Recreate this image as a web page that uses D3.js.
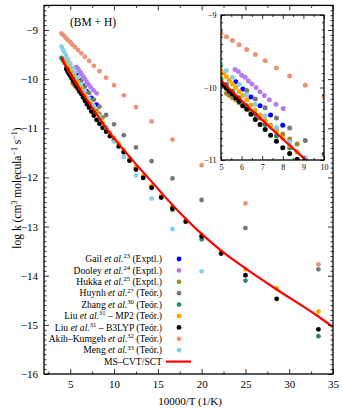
<!DOCTYPE html>
<html><head><meta charset="utf-8">
<script src="https://cdn.jsdelivr.net/npm/d3@7"></script>
<style>
body{margin:0;background:#fff}
svg{display:block}
text{font-family:"Liberation Serif","Times New Roman",serif;fill:#000}
</style>
</head><body>
<svg id="c" width="343" height="409"></svg>
<script>
// ---- data: temperatures (K) and log k ----
const gailT   = [1750,1650,1550,1450,1350,1250];
const gailK   = [-9.92,-10.02,-10.13,-10.25,-10.38,-10.52];
const dooleyT = [1760,1712,1667,1621,1580,1538,1493,1451,1408,1361,1304,1247];
const dooleyK = [-9.75,-9.78,-9.83,-9.86,-9.91,-9.95,-10.00,-10.06,-10.11,-10.17,-10.23,-10.29];
const hukkaT  = [1900,1850,1800,1750,1700,1650,1600,1550,1500,1450,1400,1350,1300,1250,1200,1150];
const hukkaK  = [-10.08,-10.11,-10.14,-10.17,-10.21,-10.25,-10.29,-10.33,-10.37,-10.42,-10.47,-10.52,-10.58,-10.64,-10.71,-10.78];
const huynhT  = [1600,1500,1400,1300,1200,1100,1000,900,800,700,600,500,400,300];
const huynhK  = [-10.04,-10.16,-10.28,-10.42,-10.56,-10.73,-10.92,-11.14,-11.39,-11.67,-12.02,-12.46,-13.03,-13.87];
const zhangT  = [2500,2400,2300,2200,2100,2000,1900,1800,1700,1600,1500,1400,1300,1200,1100,1000,900,800,700,600,500,400,300];
const zhangK  = [-9.57,-9.62,-9.67,-9.73,-9.80,-9.88,-9.96,-10.05,-10.14,-10.25,-10.37,-10.51,-10.67,-10.83,-11.00,-11.22,-11.47,-11.80,-12.20,-12.66,-13.26,-14.10,-15.23];
const liuT    = [2200,2150,2100,2050,2000,1950,1900,1850,1800,1750,1700,1650,1600,1550,1500,1450,1400,1350,1300,1250,1200,1150,1100,1050,1000,950,900,850,800,750,700,650,600,550,500,450,400,350,300];
const liuMp2K = [-9.62,-9.66,-9.69,-9.73,-9.765,-9.81,-9.85,-9.90,-9.95,-10.00,-10.06,-10.11,-10.17,-10.24,-10.31,-10.38,-10.45,-10.53,-10.61,-10.70,-10.80,-10.89,-10.99,-11.09,-11.20,-11.31,-11.44,-11.60,-11.79,-11.97,-12.17,-12.37,-12.60,-12.87,-13.17,-13.51,-13.87,-14.26,-14.73];
const liuB3K  = [-9.79,-9.82,-9.86,-9.90,-9.93,-9.97,-10.01,-10.05,-10.09,-10.14,-10.19,-10.25,-10.30,-10.37,-10.44,-10.51,-10.58,-10.66,-10.74,-10.83,-10.91,-10.99,-11.07,-11.16,-11.25,-11.37,-11.49,-11.66,-11.84,-12.01,-12.21,-12.41,-12.63,-12.90,-13.20,-13.55,-13.99,-14.47,-15.09];
const akihT   = [2500,2400,2300,2200,2100,2000,1900,1800,1700,1600,1500,1400,1300,1200,1100,1000,900,800,700,600,500,400,300];
const akihK   = [-9.07,-9.10,-9.13,-9.17,-9.21,-9.25,-9.30,-9.35,-9.41,-9.475,-9.545,-9.63,-9.73,-9.84,-9.97,-10.125,-10.33,-10.57,-10.86,-11.23,-11.75,-12.53,-13.77];
const mengT   = [2500,2400,2300,2200,2100,2000,1900,1800,1700,1600,1500,1400,1300,1200,1100,1000,900,800,700,600,500];
const mengK   = [-9.34,-9.40,-9.46,-9.53,-9.60,-9.68,-9.765,-9.86,-9.96,-10.10,-10.235,-10.39,-10.55,-10.75,-10.97,-11.27,-11.58,-11.96,-12.43,-13.05,-13.91];
const mscvtT  = [2500,2000,1667,1429,1250,1111,1000,909,800,714,600,500,450,400,350,300,286];
const mscvtK  = [-9.56,-9.90,-10.18,-10.45,-10.71,-10.97,-11.20,-11.42,-11.73,-12.03,-12.56,-13.15,-13.49,-13.85,-14.28,-14.83,-15.04];

const legendNames  = ["Gail","Dooley","Hukka","Huynh","Zhang","Liu","Liu","Akih–Kumgeh","Meng"];
const legendRefs   = ["23","24","25","27","30","31","31","32","33"];
const legendExtra  = [" (Exptl.)"," (Exptl.)"," (Exptl.)"," (Teór.)"," (Teór.)"," – MP2 (Teór.)"," – B3LYP (Teór.)"," (Teór.)"," (Teór.)"];
const lineLabel = "MS–CVT/SCT";
const colors = ["#0000ff","#b57cf0","#a8862a","#6f7b7b","#2e8b57","#ffa500","#000000","#eb9378","#87ceeb"];

const xTicks = [5,10,15,20,25,30,35];
const yTicks = [-16,-15,-14,-13,-12,-11,-10,-9];
const insetXTicks = [5,6,7,8,9,10];
const insetYTicks = [-11,-10,-9];

// ---- build ----
const series = [
  [gailT,gailK],[dooleyT,dooleyK],[hukkaT,hukkaK],[huynhT,huynhK],[zhangT,zhangK],
  [liuT,liuMp2K],[liuT,liuB3K],[akihT,akihK],[mengT,mengK]
].map((s,i)=>({color:colors[i], pts:s[0].map((t,j)=>({x:10000/t,y:s[1][j]}))}));
const linePts = mscvtT.map((t,j)=>({x:10000/t,y:mscvtK[j]}));

const svg = d3.select("#c");
const L=44,R=333,T=5.4,B=374;
const x = d3.scaleLinear().domain([2,35]).range([L,R]);
const y = d3.scaleLinear().domain([-16,-8.5]).range([B,T]);

function range(a,b,s){const r=[];for(let v=a;v<=b+1e-9;v+=s)r.push(+v.toFixed(3));return r;}

function drawAxes(g, xs, ys, xt, yt, xMinor, yMinor, fs, majorLen, minorLen, pad, showLabels){
  const [x0,x1]=xs.range(), [y0,y1]=ys.range();
  const fmt = d3.format("d");
  const mk = (axis, tr, vals, len, labels)=>{
    const a = axis.tickValues(vals).tickSize(-len).tickPadding(pad);
    if(!labels) a.tickFormat("");
    else a.tickFormat(fmt);
    const gg = g.append("g").attr("transform",tr).call(a);
    gg.select(".domain").remove();
    gg.selectAll("line").attr("stroke","#000").attr("stroke-width",0.8);
    gg.selectAll("text").attr("font-size",fs).attr("font-family","Liberation Serif, serif").attr("fill","#000");
    return gg;
  };
  mk(d3.axisBottom(xs),`translate(0,${y0})`,xt,majorLen,showLabels);
  mk(d3.axisBottom(xs),`translate(0,${y0})`,xMinor,minorLen,false);
  mk(d3.axisTop(xs),`translate(0,${y1})`,xt,majorLen,false);
  mk(d3.axisTop(xs),`translate(0,${y1})`,xMinor,minorLen,false);
  mk(d3.axisLeft(ys),`translate(${x0},0)`,yt,majorLen,showLabels);
  mk(d3.axisLeft(ys),`translate(${x0},0)`,yMinor,minorLen,false);
  mk(d3.axisRight(ys),`translate(${x1},0)`,yt,majorLen,false);
  mk(d3.axisRight(ys),`translate(${x1},0)`,yMinor,minorLen,false);
  g.append("rect").attr("x",x0).attr("y",y1).attr("width",x1-x0).attr("height",y0-y1)
    .attr("fill","none").attr("stroke","#000").attr("stroke-width",1.3);
}

// main
const main = svg.append("g");
const mainData = main.append("g");
series.forEach(s=>{
  mainData.append("g").selectAll("circle").data(s.pts).join("circle")
    .attr("cx",d=>x(d.x)).attr("cy",d=>y(d.y)).attr("r",2.4).attr("fill",s.color);
});
const lineGen = (xs,ys)=>d3.line().x(d=>xs(d.x)).y(d=>ys(d.y)).curve(d3.curveMonotoneX);
mainData.append("path").datum(linePts).attr("d",lineGen(x,y)).attr("fill","none")
  .attr("stroke","#ff0000").attr("stroke-width",2.2);

drawAxes(main,x,y,xTicks,yTicks,range(2.5,35,2.5).filter(v=>v%5!==0),range(-16,-8.5,0.1).filter(v=>Math.abs(v-Math.round(v))>1e-6),11,5,2.5,6,true);

// labels
svg.append("text").attr("x",70).attr("y",25.5).attr("font-size",11.5).text("(BM + H)");
svg.append("text").attr("x",190).attr("y",405).attr("text-anchor","middle").attr("font-size",11).text("10000/T (1/K)");
const yl = svg.append("text").attr("transform","translate(21,188) rotate(-90)").attr("text-anchor","middle").attr("font-size",11.5);
yl.append("tspan").text("log k (cm");
yl.append("tspan").attr("dy",-4).attr("font-size",8).text("3");
yl.append("tspan").attr("dy",4).text(" molecula");
yl.append("tspan").attr("dy",-4).attr("font-size",8).text("−1");
yl.append("tspan").attr("dy",4).text(" s");
yl.append("tspan").attr("dy",-4).attr("font-size",8).text("−1");
yl.append("tspan").attr("dy",4).text(")");

// legend
const lg = svg.append("g");
legendNames.forEach((n,i)=>{
  const yy = 259 + i*11.4;
  const t = lg.append("text").attr("x",162).attr("y",yy+3.2).attr("text-anchor","end").attr("font-size",9.6);
  t.append("tspan").text(n+" ");
  t.append("tspan").attr("font-style","italic").text("et al.");
  t.append("tspan").attr("dy",-3.8).attr("font-size",6.6).text(legendRefs[i]);
  t.append("tspan").attr("dy",3.8).text(legendExtra[i]);
  lg.append("circle").attr("cx",179).attr("cy",yy).attr("r",2.4).attr("fill",colors[i]);
});
{
  const yy = 259 + 9*11.4;
  lg.append("text").attr("x",162).attr("y",yy+3.2).attr("text-anchor","end").attr("font-size",9.6).text(lineLabel);
  lg.append("line").attr("x1",166).attr("x2",191).attr("y1",yy).attr("y2",yy).attr("stroke","#ff0000").attr("stroke-width",2.2);
}

// inset
const xi = d3.scaleLinear().domain([5,10]).range([221,324]);
const yi = d3.scaleLinear().domain([-11,-9]).range([160,15]);
const ins = svg.append("g");
ins.append("rect").attr("x",221).attr("y",15).attr("width",103).attr("height",145).attr("fill","#fff");
svg.append("clipPath").attr("id","ic").append("rect").attr("x",221).attr("y",15).attr("width",103).attr("height",145);
const insData = ins.append("g").attr("clip-path","url(#ic)");
series.forEach(s=>{
  insData.append("g").selectAll("circle").data(s.pts.filter(d=>d.x<10.5 && d.x>4.5)).join("circle")
    .attr("cx",d=>xi(d.x)).attr("cy",d=>yi(d.y)).attr("r",2.5).attr("fill",s.color);
});
insData.append("path").datum(linePts).attr("d",lineGen(xi,yi)).attr("fill","none")
  .attr("stroke","#ff0000").attr("stroke-width",2.2);
drawAxes(ins,xi,yi,insetXTicks,insetYTicks,range(5.5,9.5,1),range(-11,-9,0.1).filter(v=>Math.abs(v-Math.round(v))>1e-6),8,4,2,4.5,true);
</script>
</body></html>
